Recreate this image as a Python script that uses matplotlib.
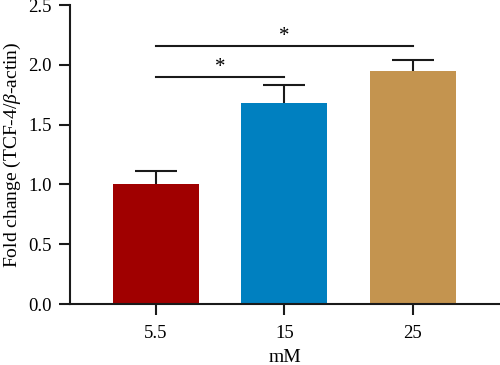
import numpy as np
import matplotlib.pyplot as plt

plt.rcParams['font.family'] = 'Liberation Serif'
plt.rcParams['mathtext.fontset'] = 'custom'
plt.rcParams['mathtext.rm'] = 'Liberation Serif'
plt.rcParams['mathtext.it'] = 'Liberation Serif:italic'

# data
categories = ['5.5', '15', '25']
means = [1.00, 1.68, 1.95]
errors = [0.11, 0.15, 0.09]
colors = ['#A00000', '#0080C0', '#C4944F']
# significance brackets: (left index, right index, height)
brackets = [(0, 1, 1.90), (0, 2, 2.16)]

fig = plt.figure(figsize=(5.0, 3.65), dpi=100)
ax = fig.add_axes([0.14, 0.167, 0.86, 0.819])

x = np.arange(len(categories))
ax.bar(x, means, width=0.67, color=colors, zorder=2)
_, caps, _ = ax.errorbar(x, means, yerr=[np.zeros(len(errors)), errors], fmt='none',
                         ecolor='#1a1a1a', elinewidth=1.5, capsize=15, capthick=1.5,
                         zorder=1)
caps[0].set_visible(False)  # only the upper cap

for i, j, h in brackets:
    ax.plot([x[i], x[j]], [h, h], color='#1a1a1a', lw=1.5)
    ax.text((x[i] + x[j]) / 2, h + 0.0, '*', ha='center', va='bottom', fontsize=15)

ax.set_xlim(-0.67, 2.68)
ax.set_ylim(0, 2.5)
ax.set_yticks([0, 0.5, 1.0, 1.5, 2.0, 2.5])
ax.set_yticklabels(['0.0', '0.5', '1.0', '1.5', '2.0', '2.5'])
ax.set_xticks(x)
ax.set_xticklabels(categories)

for s in ['top', 'right']:
    ax.spines[s].set_visible(False)
for s in ['left', 'bottom']:
    ax.spines[s].set_linewidth(1.5)
    ax.spines[s].set_color('#1a1a1a')
ax.tick_params(direction='out', length=8, width=1.5, color='#1a1a1a',
               labelsize=13.5, pad=5)
ax.tick_params(axis='x', pad=7)

ax.set_xlabel('mM', fontsize=14, labelpad=5)
ax.set_ylabel(r'Fold change (TCF-4/$\beta$-actin)', fontsize=14, labelpad=4)

fig.savefig('out.png', dpi=100)
